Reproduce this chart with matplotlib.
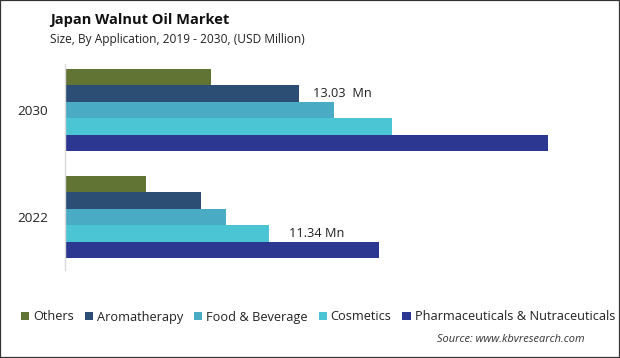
import numpy as np
import matplotlib
matplotlib.use("Agg")
import matplotlib.pyplot as plt
from matplotlib.patches import Rectangle

# Data (USD Million)
years = ["2022", "2030"]
segments = ["Others", "Aromatherapy", "Food & Beverage", "Cosmetics",
            "Pharmaceuticals & Nutraceuticals"]
others = [4.51, 8.13]
aromatherapy = [7.57, 13.03]
food_beverage = [8.97, 14.98]
cosmetics = [11.34, 18.20]
pharma = [17.49, 26.90]

colors = ["#617434", "#2d4e74", "#4aabc5", "#4bc5d3", "#2b3791"]

plt.rcParams["font.family"] = ["Open Sans", "DejaVu Sans"]

fig = plt.figure(figsize=(6.2, 3.58), dpi=100)
ax = fig.add_axes([65 / 620, 1 - 270 / 358, (600 - 65) / 620, (270 - 64) / 358])

y = np.arange(len(years))
w = 0.766 / 5
series = [others, aromatherapy, food_beverage, cosmetics, pharma]
offsets = [2 * w, w, 0, -w, -2 * w]

bars = []
for vals, off, col, name in zip(series, offsets, colors, segments):
    b = ax.barh(y + off, vals, height=w, color=col, label=name)
    bars.append(b)

ax.set_xlim(0, (600 - 65) * 0.0557)
ax.set_ylim(-0.495, 1.43)
ax.set_yticks(y)
ax.set_yticklabels(years, fontsize=9.7, color="#222222")
ax.tick_params(axis="y", length=0, pad=12)
ax.set_xticks([])
for s in ["top", "right", "bottom"]:
    ax.spines[s].set_visible(False)
ax.spines["left"].set_color("#d9d9d9")
ax.spines["left"].set_linewidth(1.0)

# value labels
ax.annotate(f"{aromatherapy[1]:.2f}  Mn", xy=(aromatherapy[1], y[1] + w),
            xytext=(14, 0), textcoords="offset pixels",
            va="center", ha="left", fontsize=9.2, color="#222222")
ax.annotate(f"{cosmetics[0]:.2f} Mn", xy=(cosmetics[0], y[0] - w),
            xytext=(20, 0), textcoords="offset pixels",
            va="center", ha="left", fontsize=9.2, color="#222222")

fig.text(50 / 620, 1 - 20 / 358, "Japan Walnut Oil Market", fontsize=10.5,
         fontweight="bold", color="#111111", va="center", ha="left")
fig.text(50 / 620, 1 - 39 / 358, "Size, By Application, 2019 - 2030, (USD Million)",
         fontsize=8.6, color="#222222", va="center", ha="left")

fig.legend(handles=bars, labels=segments, loc="center",
           bbox_to_anchor=((20 + 616) / 2 / 620, 1 - 317 / 358),
           ncol=5, frameon=False, fontsize=9.2, handlelength=0.65,
           handleheight=0.65, handletextpad=0.3, columnspacing=0.85,
           borderaxespad=0, labelcolor="#222222")

fig.text(585 / 620, 1 - 340 / 358, "Source: www.kbvresearch.com", fontsize=7.9,
         style="italic", color="#333333", va="center", ha="right")

fig.patches.append(Rectangle((0, 0), 1, 1, transform=fig.transFigure,
                             fill=False, edgecolor="#333333", linewidth=1.6))

fig.savefig("out.png", dpi=100)
